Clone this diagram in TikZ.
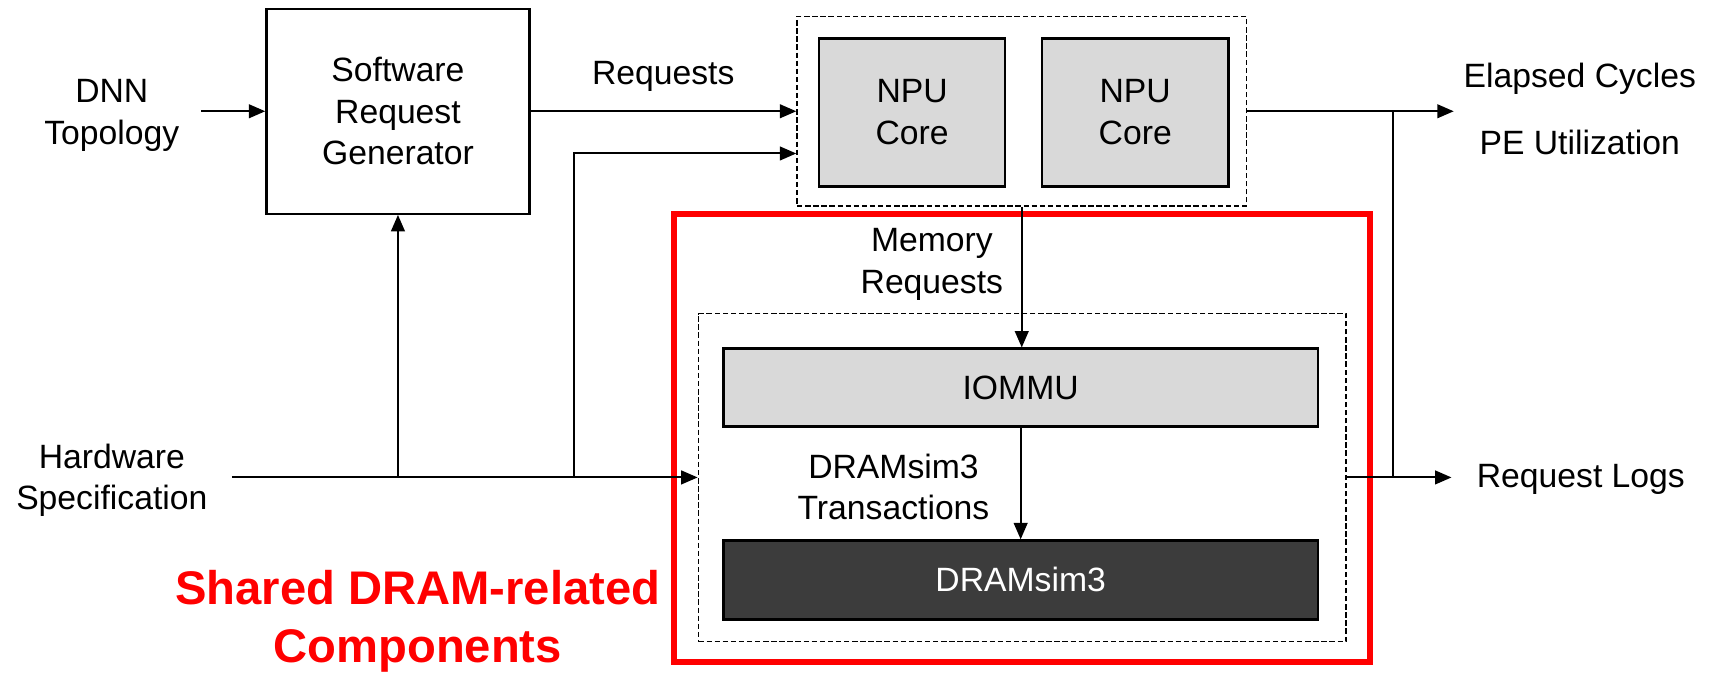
\documentclass[tikz,border=0pt]{standalone}
\usepackage{fontspec}
\setmainfont{Liberation Sans}
\usepackage{xcolor}
\usepackage{tikz}
\usetikzlibrary{positioning,arrows.meta,calc}
\definecolor{simgrey}{HTML}{D9D9D9}
\definecolor{simdark}{HTML}{3C3C3C}
\definecolor{simred}{HTML}{FF0000}

\begin{document}
\begin{tikzpicture}[x=0.02cm,y=-0.02cm,
    every node/.style={font=\fontsize{17.5}{21.6}\selectfont,align=center,inner sep=0pt},
    box/.style={draw=black,line width=1.2pt},
    corebox/.style={box,fill=simgrey,minimum width=3.4cm,minimum height=2.7cm},
    dashbox/.style={draw=black,line width=0.8pt,dash pattern=on 2.8pt off 1.4pt},
    link/.style={line width=1.05pt},
    arr/.style={link,-{Triangle[length=0.3cm,width=0.25cm]}}]
  \useasboundingbox (0,0) rectangle (1568,614);

  % blocks
  \node[box,minimum width=4.8cm,minimum height=3.74cm] (srg) at (363,101.5) {Software\\Request\\Generator};
  \node[corebox] (core1) at (832,102.5) {NPU\\Core};
  \node[corebox] (core2) at (1035.5,102.5) {NPU\\Core};
  \node[dashbox,minimum width=8.2cm,minimum height=3.46cm] (npu) at (932,101.5) {};
  \node[draw=simred,line width=3.2pt,minimum width=12.7cm,minimum height=8.18cm] (shared) at (932.5,399.5) {};
  \node[dashbox,minimum width=11.82cm,minimum height=5.98cm] (mem) at (932.5,435.5) {};
  \node[box,fill=simgrey,minimum width=10.84cm,minimum height=1.42cm] (iommu) at (931,353.5) {IOMMU};
  \node[box,fill=simdark,text=white,minimum width=10.84cm,minimum height=1.44cm] (dram) at (931,529) {DRAMsim3};

  % labels
  \node (dnn) at (102,105) {DNN\\Topology};
  \node (hw) at (102,438) {Hardware\\Specification};
  \node (reqlab) at (605,70) {Requests};
  \node (memlab) at (850,241) {Memory\\Requests};
  \node (translab) at (815,444) {DRAMsim3\\Transactions};
  \node (cycles) at (1441,72) {Elapsed Cycles};
  \node (peutil) at (1441,130) {PE Utilization};
  \node (logs) at (1442,437) {Request Logs};
  \node[text=simred,font=\bfseries\fontsize{24.5}{30}\selectfont] (sharedlab) at (381,567) {Shared DRAM-related\\Components};

  % connectors
  \coordinate (tap) at (524,140);
  \coordinate (join) at (1271,0);
  \coordinate (cyclesout) at (1326,101.5);
  \coordinate (logsout) at (1324,435.5);
  \draw[arr,shorten <=0.39cm] (dnn.east |- srg.west) -- (srg.west);
  \draw[arr] (srg.east) -- (srg.east -| npu.west);
  \draw[arr,shorten <=0.44cm] (hw.east |- mem.west) -- (mem.west);
  \draw[arr] (srg.south |- mem.west) -- (srg.south);
  \draw[arr] (tap |- mem.west) -- (tap) -- (tap -| npu.west);
  \draw[arr] (npu.south) -- (npu.south |- iommu.north);
  \draw[arr] (iommu.south) -- (dram.north);
  \draw[arr] (npu.east) -- (cyclesout);
  \draw[arr] (mem.east) -- (logsout);
  \draw[link] (join |- npu.east) -- (join |- mem.east);
\end{tikzpicture}
\end{document}
